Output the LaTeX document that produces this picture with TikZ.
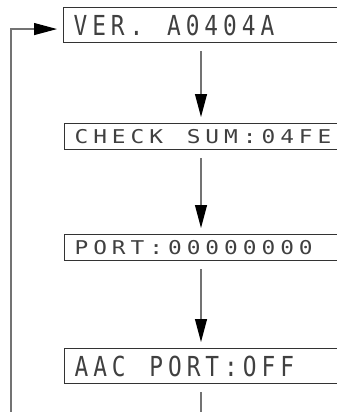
\documentclass[tikz,border=0pt]{standalone}
\usepackage{fontspec}
\usetikzlibrary{arrows.meta,calc}
\newfontfamily\lcdfont{DejaVu Sans Mono}
\makeatletter
\newcommand\lcdstr[1]{\@tfor\lcd@c:=#1\do{\makebox[18.7pt][l]{\scalebox{1.2}[1]{\lcd@c}}}}
\makeatother
\definecolor{linegray}{gray}{0.45}
\definecolor{boxgray}{gray}{0.2}
\definecolor{lcdgray}{gray}{0.25}
\begin{document}
\begin{tikzpicture}[x=1pt,y=-1pt,
  lcdbox/.style={draw=boxgray,line width=1.1pt,rectangle,anchor=north west,
    minimum width=290pt,inner xsep=7pt,inner ysep=0pt,
    text=lcdgray,font=\lcdfont\fontsize{19}{19}\selectfont,
    text width=270pt,align=left},
  tallbox/.style={lcdbox,minimum height=35pt},
  shortbox/.style={lcdbox,minimum height=26pt},
  flow/.style={draw=linegray,line width=1.1pt,
    -{Triangle[length=23pt,width=12pt,color=black]}},
  plain/.style={draw=linegray,line width=1.1pt}]
\useasboundingbox (0,0) rectangle (337,412);
\clip (0,0) rectangle (337,412);
\node[tallbox] (b1) at (63,7) {\scalebox{1}[1.45]{\lcdstr{VER.~A0404A}}};
\node[shortbox] (b2) at (64,123) {\lcdstr{CHECK~SUM:04FE}};
\node[shortbox] (b3) at (64,234) {\lcdstr{PORT:00000000}};
\node[tallbox] (b4) at (64,348) {\scalebox{1}[1.45]{\lcdstr{AAC~PORT:OFF}}};
\coordinate (bot) at (201,416);
\coordinate (fb) at (11,416);
\draw[flow] ($(b1.south west)+(138,8)$) -- ($(b2.north west)+(137,-6)$);
\draw[flow] ($(b2.south west)+(137,8)$) -- ($(b3.north west)+(137,-6)$);
\draw[flow] ($(b3.south west)+(137,8)$) -- ($(b4.north west)+(137,-6)$);
\draw[plain] ($(b4.south west)+(137,8)$) -- (bot);
\draw[flow] (fb) |- ($(b1.west)+(-6,4)$);
\end{tikzpicture}
\end{document}
